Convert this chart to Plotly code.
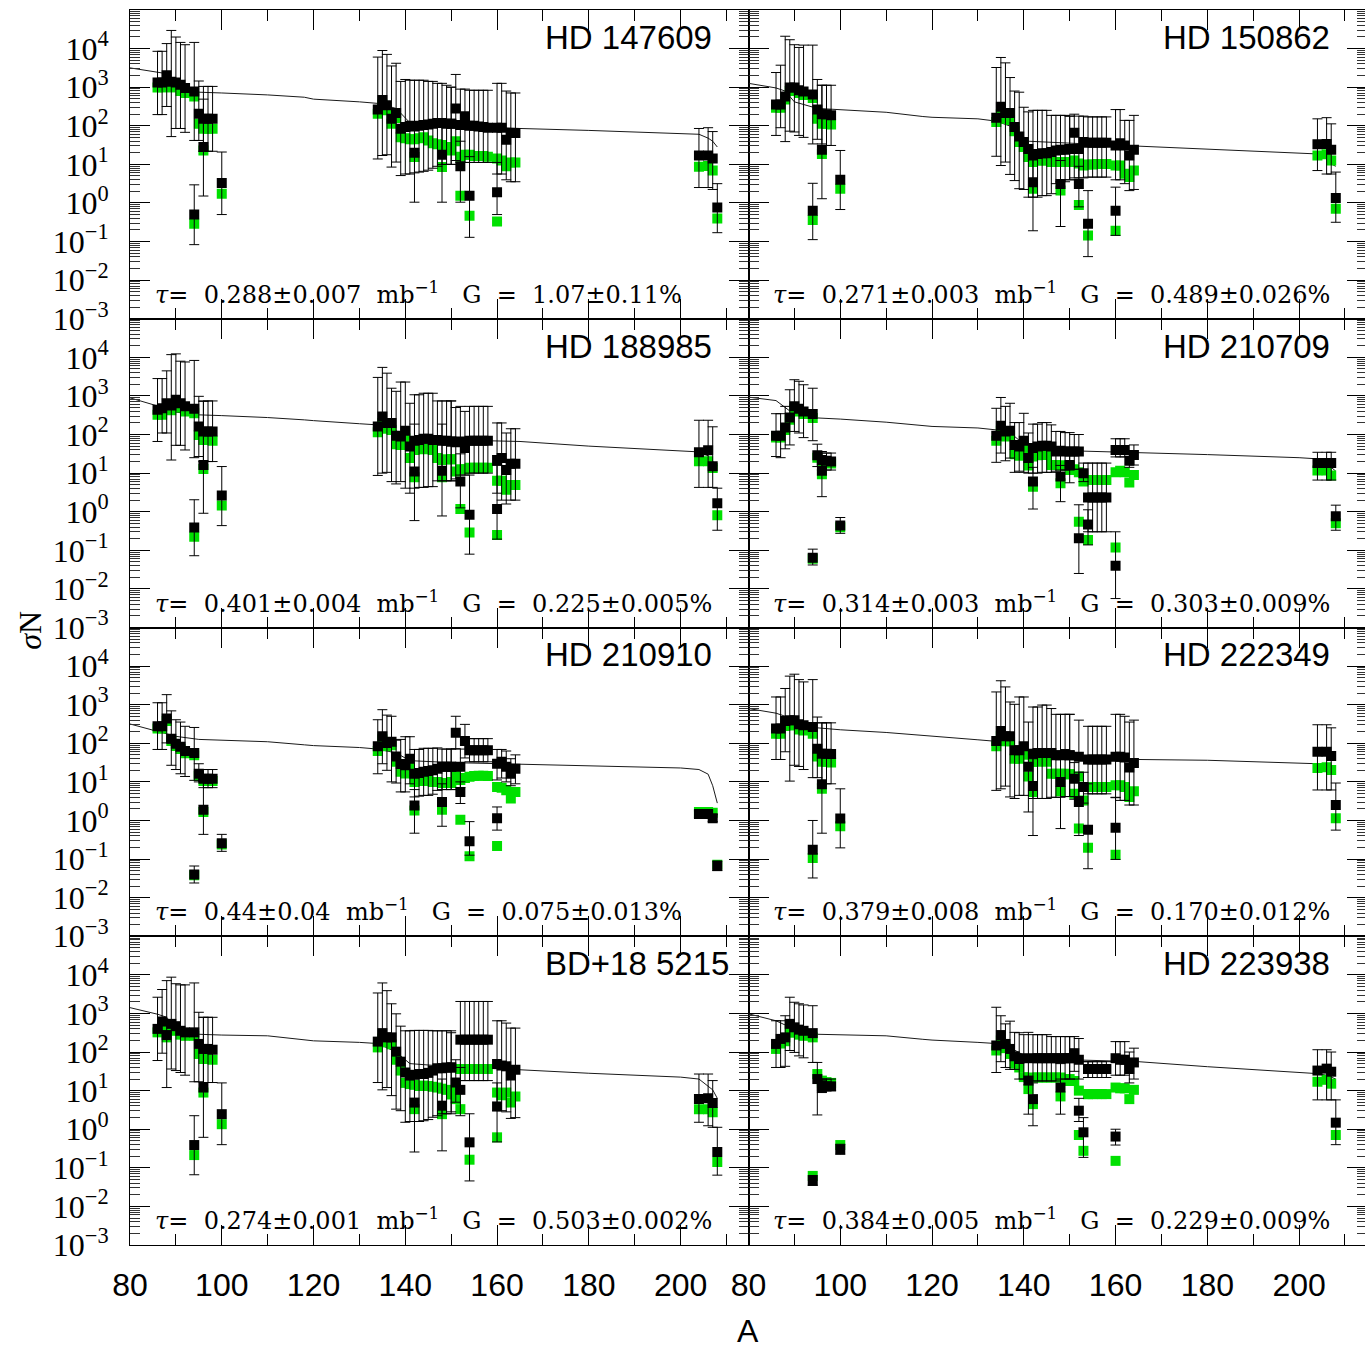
import plotly.graph_objects as go
from plotly.subplots import make_subplots

# Mass numbers of the measured isotopes (repeated A = isobars of two elements)
A_ISO = [86, 87, 88, 89, 90, 91, 92, 94, 94, 95, 96, 96, 97, 98, 100,
         134, 135, 136, 137, 138, 139, 140, 141, 142, 142, 143, 144, 145, 146, 147,
         148, 148, 149, 150, 150, 151, 152, 152, 153, 154, 154, 155, 156, 157, 158,
         160, 160, 161, 162, 163, 164,
         204, 206, 207, 208]

# Mass numbers at which the main-component sigma*N curve is tabulated
CURVE_A = [80, 86, 88, 90, 95, 100, 110, 118, 120, 130, 134, 138, 141,
           150, 160, 165, 180, 200, 204, 206, 207, 208]

STARS = ["HD 147609", "HD 150862", "HD 188985", "HD 210709",
         "HD 210910", "HD 222349", "BD+18 5215", "HD 223938"]
TAU = ["0.288±0.007", "0.271±0.003", "0.401±0.004", "0.314±0.003",
       "0.44±0.04", "0.379±0.008", "0.274±0.001", "0.384±0.005"]
G_PCT = ["1.07±0.11", "0.489±0.026", "0.225±0.005", "0.303±0.009",
         "0.075±0.013", "0.170±0.012", "0.503±0.002", "0.229±0.009"]

# ---- log10(sigma N) per star: black = total, green = s-part, HI/LO = error-bar ends
HD147609_SN = [3.12, 3.12, 3.31, 3.14, 3.12, 3.06, 2.98, 2.89, -0.30, 2.31, 1.45, 2.18, 2.18, 2.18, 0.52,
               2.42, 2.67, 2.53, 2.18, 2.33, 1.92, 1.97, 2.00, 1.30, 1.98, 2.00, 2.02, 2.03, 2.05, 2.07,
               1.25, 2.07, 2.05, 2.05, 2.05, 2.45, 0.95, 2.02, 2.25, 0.19, 2.00, 2.00, 1.98, 1.97, 1.95,
               0.28, 1.95, 1.95, 1.64, 1.81, 1.81,
               1.23, 1.23, 1.15, -0.12]
HD147609_SNS = [2.99, 3.00, 3.00, 3.00, 3.00, 2.90, 2.85, 2.76, -0.54, 2.05, 1.36, 1.92, 1.92, 1.92, 0.24,
                2.31, 2.55, 2.40, 2.05, 2.20, 1.70, 1.68, 1.65, 1.19, 1.65, 1.68, 1.70, 1.62, 1.55, 1.52,
                0.93, 1.50, 1.45, 1.40, 1.36, 1.60, 0.19, 1.20, 1.25, -0.33, 1.25, 1.22, 1.22, 1.22, 1.20,
                -0.48, 1.15, 1.10, 0.95, 1.05, 1.05,
                0.94, 0.96, 0.84, -0.40]
HD147609_HI = [3.93, 3.93, 4.13, 4.47, 4.30, 4.16, 4.10, 4.16, 0.47, 3.16, 2.69, 3.02, 3.02, 3.02, 1.32,
               3.78, 3.95, 3.85, 3.55, 3.62, 3.15, 3.20, 3.18, 2.00, 3.18, 3.18, 3.18, 3.15, 3.15, 3.10,
               2.00, 3.10, 3.05, 3.00, 3.00, 3.33, 1.60, 2.95, 2.95, 1.20, 2.92, 2.92, 2.92, 2.92, 2.92,
               1.05, 3.10, 3.10, 2.90, 2.85, 2.85,
               1.93, 1.95, 1.85, 0.50]
HD147609_LO = [2.29, 2.29, 2.50, 1.72, 1.93, 1.93, 1.83, 1.62, -1.08, 1.62, 0.18, 1.34, 1.34, 1.34, -0.30,
               1.14, 1.23, 1.25, 0.93, 1.06, 0.71, 0.75, 0.75, 0.02, 0.78, 0.80, 0.82, 0.85, 0.90, 0.95,
               0.02, 1.00, 1.00, 1.00, 1.00, 1.10, 0.02, 1.05, 1.05, -0.89, 1.05, 1.05, 1.05, 1.05, 1.05,
               -0.30, 0.75, 0.75, 0.60, 0.55, 0.55,
               0.40, 0.40, 0.35, -0.77]
HD147609_CURVE = [3.50, 3.40, 3.35, 3.00, 2.87, 2.85, 2.80, 2.74, 2.69, 2.62, 2.58, 2.45, 2.08,
                  2.01, 1.96, 1.93, 1.88, 1.81, 1.78, 1.68, 1.60, 1.45]

HD150862_SN = [2.55, 2.55, 2.76, 2.99, 2.99, 2.92, 2.89, 2.81, -0.20, 2.42, 1.38, 2.30, 2.30, 2.27, 0.60,
               2.21, 2.49, 2.33, 2.33, 1.97, 1.72, 1.58, 1.40, 0.54, 1.23, 1.27, 1.29, 1.29, 1.32, 1.36,
               0.49, 1.38, 1.38, 1.40, 1.40, 1.82, 0.49, 1.40, 1.58, -0.54, 1.56, 1.56, 1.56, 1.56, 1.56,
               -0.20, 1.49, 1.55, 1.49, 1.23, 1.38,
               1.52, 1.53, 1.38, 0.13]
HD150862_SNS = [2.47, 2.47, 2.68, 2.90, 2.90, 2.85, 2.80, 2.72, -0.44, 2.18, 1.27, 2.05, 2.05, 2.03, 0.37,
                2.10, 2.30, 2.18, 2.15, 1.86, 1.58, 1.45, 1.19, 0.37, 1.06, 1.10, 1.10, 1.10, 1.06, 1.06,
                0.32, 1.06, 1.06, 1.06, 1.06, 1.10, -0.05, 1.02, 0.97, -0.84, 1.00, 1.00, 1.01, 1.01, 1.01,
                -0.72, 0.97, 0.97, 0.76, 0.67, 0.84,
                1.23, 1.26, 1.10, -0.15]
HD150862_HI = [3.38, 3.57, 4.32, 4.23, 4.10, 4.03, 4.09, 4.09, 0.51, 3.20, 3.05, 3.05, 3.05, 3.05, 1.36,
               3.51, 3.77, 3.63, 3.25, 2.90, 2.87, 2.48, 2.36, 1.20, 2.40, 2.40, 2.40, 2.40, 2.27, 2.27,
               1.10, 2.27, 2.27, 2.25, 2.25, 2.30, 0.95, 2.25, 2.25, 0.32, 2.23, 2.23, 2.23, 2.23, 2.23,
               0.41, 2.42, 2.42, 2.14, 2.14, 2.27,
               2.18, 2.21, 2.05, 0.80]
HD150862_LO = [1.75, 1.95, 1.59, 1.86, 1.84, 1.75, 1.70, 1.53, -0.95, 1.65, 0.11, 1.53, 1.49, 1.49, -0.17,
               1.21, 0.97, 1.06, 0.74, 0.58, 0.37, 0.35, 0.15, -0.72, 0.15, 0.15, 0.19, 0.19, 0.24, 0.50,
               -0.61, 0.55, 0.55, 0.60, 0.60, 0.65, -0.10, 0.65, 0.65, -1.39, 0.67, 0.67, 0.67, 0.67, 0.67,
               -0.84, 0.60, 0.60, 0.50, 0.32, 0.35,
               0.84, 0.75, 0.75, -0.50]
HD150862_CURVE = [3.10, 2.98, 2.90, 2.62, 2.45, 2.42, 2.35, 2.24, 2.22, 2.18, 2.12, 1.95, 1.60,
                  1.55, 1.50, 1.48, 1.40, 1.30, 1.27, 1.15, 1.01, 0.95]

HD188985_SN = [2.64, 2.68, 2.81, 2.75, 2.90, 2.81, 2.73, 2.67, -0.41, 2.21, 1.21, 2.08, 2.08, 2.08, 0.42,
               2.21, 2.47, 2.30, 2.30, 1.97, 1.95, 2.10, 1.69, 1.04, 1.84, 1.86, 1.89, 1.89, 1.86, 1.86,
               1.06, 1.84, 1.84, 1.82, 1.82, 1.80, 0.78, 1.82, 1.65, -0.08, 1.84, 1.84, 1.84, 1.84, 1.84,
               0.07, 1.34, 1.39, 1.08, 1.24, 1.24,
               1.54, 1.59, 1.18, 0.22]
HD188985_SNS = [2.51, 2.51, 2.67, 2.63, 2.77, 2.70, 2.60, 2.55, -0.65, 1.99, 1.11, 1.86, 1.86, 1.84, 0.16,
                2.06, 2.30, 2.15, 2.12, 1.75, 1.73, 1.90, 1.39, 0.89, 1.60, 1.62, 1.64, 1.62, 1.60, 1.39,
                0.89, 1.34, 1.36, 1.36, 1.36, 1.04, 0.07, 1.10, 1.10, -0.54, 1.14, 1.14, 1.14, 1.14, 1.14,
                -0.60, 0.80, 0.80, 0.57, 0.69, 0.69,
                1.31, 1.31, 1.13, -0.09]
HD188985_HI = [3.45, 3.45, 3.65, 4.07, 4.09, 3.90, 3.88, 3.92, 0.31, 2.99, 2.86, 2.87, 2.87, 2.87, 1.17,
               3.48, 3.74, 3.59, 3.20, 3.12, 3.36, 3.36, 2.81, 2.27, 3.03, 3.03, 3.07, 3.07, 3.07, 2.87,
               2.27, 2.87, 2.87, 2.87, 2.87, 2.70, 1.50, 2.73, 2.60, 0.95, 2.73, 2.73, 2.73, 2.73, 2.73,
               1.20, 2.30, 2.30, 2.04, 2.15, 2.15,
               2.37, 2.37, 2.20, 0.61]
HD188985_LO = [1.82, 2.04, 2.04, 1.34, 1.72, 1.72, 1.60, 1.40, -1.14, 1.43, -0.04, 1.30, 1.30, 1.30, -0.36,
               0.94, 1.00, 1.02, 0.78, 0.72, 0.78, 0.61, 0.48, -0.23, 0.61, 0.63, 0.63, 0.65, 0.65, 0.80,
               -0.11, 0.80, 0.80, 0.80, 0.80, 0.85, 0.10, 0.95, 0.95, -1.10, 1.00, 1.00, 1.00, 1.00, 1.00,
               -0.71, 0.48, 0.30, 0.20, 0.30, 0.30,
               0.63, 0.63, 0.63, -0.48]
HD188985_CURVE = [2.95, 2.75, 2.67, 2.58, 2.51, 2.49, 2.44, 2.38, 2.36, 2.28, 2.25, 2.10, 1.90,
                  1.86, 1.84, 1.82, 1.70, 1.58, 1.55, 1.45, 1.30, 1.20]

HD210709_SN = [1.97, 1.97, 2.18, 2.44, 2.73, 2.67, 2.60, 2.53, -1.19, 1.46, 1.06, 1.34, 1.32, 1.30, -0.36,
               1.97, 2.23, 2.08, 2.10, 1.73, 1.69, 1.84, 1.39, 0.78, 1.65, 1.69, 1.71, 1.71, 1.69, 1.56,
               0.91, 1.58, 1.56, 1.56, 1.21, 1.56, -0.69, 1.56, 1.00, -0.33, 0.37, 0.37, 0.37, 0.37, 0.37,
               -1.40, 1.60, 1.60, 1.60, 1.32, 1.47,
               1.26, 1.26, 1.26, -0.12]
HD210709_SNS = [1.92, 1.92, 2.12, 2.38, 2.66, 2.60, 2.53, 2.43, -1.22, 1.40, 0.97, 1.28, 1.26, 1.25, -0.40,
                1.84, 2.10, 1.95, 1.97, 1.49, 1.45, 1.60, 1.20, 0.65, 1.43, 1.46, 1.49, 1.47, 1.21, 1.21,
                0.74, 1.20, 1.20, 1.19, 1.08, 1.10, -0.26, 1.02, 0.78, -0.73, 0.82, 0.82, 0.82, 0.82, 0.82,
                -0.93, 1.02, 1.06, 1.02, 0.76, 0.95,
                1.07, 1.07, 0.94, -0.30]
HD210709_HI = [2.54, 2.54, 2.73, 3.16, 3.42, 3.38, 3.29, 3.20, -0.97, 1.75, 1.56, 1.52, 1.52, 1.52, -0.15,
               2.68, 2.96, 2.73, 2.81, 2.31, 2.31, 2.55, 2.04, 1.15, 2.27, 2.27, 2.31, 2.31, 2.25, 2.08,
               1.20, 2.08, 2.05, 2.05, 1.65, 2.00, 0.18, 2.00, 1.26, 0.05, 1.26, 1.26, 1.26, 1.26, 1.26,
               -0.52, 1.89, 1.89, 1.89, 1.49, 1.73,
               1.54, 1.54, 1.54, 0.17]
HD210709_LO = [1.43, 1.40, 1.63, 1.73, 2.08, 2.04, 1.92, 1.84, -1.38, 1.17, 0.39, 1.08, 1.08, 1.08, -0.56,
               1.28, 1.52, 1.32, 1.39, 1.02, 1.05, 1.02, 1.00, 0.07, 1.00, 1.00, 1.02, 1.02, 1.02, 1.05,
               0.26, 1.08, 1.08, 1.08, 0.75, 1.10, -1.60, 1.10, 0.78, -0.86, -0.52, -0.52, -0.52, -0.52, -0.52,
               -2.25, 1.42, 1.42, 1.42, 1.15, 1.21,
               0.82, 0.82, 0.82, -0.48]
HD210709_CURVE = [2.97, 2.88, 2.70, 2.52, 2.43, 2.40, 2.32, 2.23, 2.21, 2.17, 2.12, 1.95, 1.65,
                  1.58, 1.55, 1.53, 1.48, 1.40, 1.37, 1.28, 1.15, 1.05]

HD210910_SN = [2.44, 2.44, 2.64, 2.12, 1.99, 1.91, 1.80, 1.75, -1.40, 1.21, 0.28, 1.08, 1.08, 1.08, -0.59,
               1.92, 2.18, 2.01, 2.04, 1.66, 1.46, 1.43, 1.60, 0.39, 1.21, 1.23, 1.26, 1.28, 1.30, 1.34,
               0.48, 1.39, 1.39, 1.39, 1.39, 2.27, 0.74, 1.39, 2.06, -0.54, 1.82, 1.82, 1.82, 1.82, 1.82,
               0.06, 1.47, 1.52, 1.39, 1.21, 1.34,
               0.17, 0.17, 0.06, -1.18]
HD210910_SNS = [2.38, 2.38, 2.58, 2.06, 1.93, 1.85, 1.74, 1.69, -1.42, 1.15, 0.22, 1.02, 1.02, 1.02, -0.62,
                1.80, 2.10, 1.92, 1.95, 1.52, 1.26, 1.22, 1.45, 0.26, 1.00, 1.02, 1.02, 1.02, 1.00, 1.00,
                0.28, 0.97, 0.97, 0.97, 1.00, 1.15, 0.02, 1.05, 1.10, -0.93, 1.13, 1.15, 1.16, 1.16, 1.15,
                -0.66, 0.87, 0.85, 0.78, 0.57, 0.74,
                0.22, 0.22, 0.20, -1.15]
HD210910_HI = [3.05, 3.05, 3.26, 2.84, 2.61, 2.55, 2.44, 2.41, -1.18, 1.47, 1.04, 1.32, 1.32, 1.32, -0.36,
               2.61, 2.87, 2.73, 2.70, 2.08, 2.10, 2.17, 2.17, 0.80, 1.84, 1.84, 1.87, 1.87, 1.87, 1.88,
               0.95, 1.85, 1.85, 1.85, 1.85, 2.70, 1.00, 1.85, 2.49, -0.03, 2.12, 2.12, 2.12, 2.12, 2.12,
               0.35, 1.84, 1.84, 1.80, 1.60, 1.70,
               0.25, 0.25, 0.15, -1.05]
HD210910_LO = [1.84, 1.84, 2.01, 1.43, 1.32, 1.21, 1.14, 1.04, -1.62, 1.00, -0.36, 0.85, 0.85, 0.85, -0.80,
               1.21, 1.47, 1.30, 1.00, 0.97, 0.74, 0.74, 0.95, -0.33, 0.61, 0.63, 0.65, 0.65, 0.68, 0.78,
               -0.15, 0.80, 0.80, 0.80, 0.80, 1.86, 0.44, 0.85, 1.62, -0.90, 1.52, 1.52, 1.52, 1.52, 1.52,
               -0.25, 1.05, 1.10, 1.00, 0.90, 0.95,
               0.08, 0.08, -0.03, -1.30]
HD210910_CURVE = [2.50, 2.30, 2.25, 2.18, 2.10, 2.08, 2.04, 1.96, 1.94, 1.89, 1.85, 1.75, 1.55,
                  1.50, 1.47, 1.46, 1.42, 1.36, 1.32, 1.20, 0.90, 0.45]

HD222349_SN = [2.38, 2.38, 2.58, 2.60, 2.60, 2.49, 2.47, 2.42, -0.76, 1.86, 0.94, 1.73, 1.73, 1.72, 0.05,
               2.06, 2.32, 2.18, 2.18, 1.82, 1.82, 1.92, 1.39, 0.89, 1.73, 1.75, 1.75, 1.75, 1.75, 1.69,
               1.00, 1.69, 1.72, 1.69, 1.69, 1.08, 0.48, 1.65, 0.87, -0.24, 1.58, 1.58, 1.58, 1.58, 1.58,
               -0.19, 1.65, 1.65, 1.63, 1.37, 1.49,
               1.78, 1.78, 1.67, 0.40]
HD222349_SNS = [2.25, 2.25, 2.45, 2.47, 2.47, 2.36, 2.33, 2.25, -0.97, 1.66, 0.82, 1.52, 1.52, 1.50, -0.15,
                1.92, 2.18, 2.05, 2.05, 1.60, 1.60, 1.70, 1.14, 0.74, 1.52, 1.52, 1.54, 1.52, 1.21, 1.21,
                0.76, 1.21, 1.21, 1.20, 1.20, 0.69, -0.21, 1.14, 0.52, -0.71, 0.87, 0.87, 0.87, 0.87, 0.87,
                -0.89, 0.91, 0.91, 0.87, 0.61, 0.76,
                1.36, 1.38, 1.31, 0.06]
HD222349_HI = [3.20, 3.20, 3.42, 3.74, 3.79, 3.65, 3.59, 3.65, 0.00, 2.68, 2.53, 2.53, 2.53, 2.53, 0.82,
               3.33, 3.62, 3.46, 3.07, 3.01, 3.20, 3.20, 2.55, 1.60, 2.94, 2.94, 2.99, 2.99, 2.90, 2.75,
               1.60, 2.75, 2.75, 2.75, 2.75, 1.50, 1.25, 2.60, 1.25, 0.95, 2.44, 2.44, 2.44, 2.44, 2.44,
               0.60, 2.75, 2.75, 2.70, 2.55, 2.60,
               2.48, 2.48, 2.40, 0.97]
HD222349_LO = [1.58, 1.58, 1.78, 1.02, 1.43, 1.40, 1.32, 1.11, -1.49, 1.11, -0.33, 0.95, 0.95, 0.95, -0.71,
               0.78, 0.82, 0.89, 0.61, 0.57, 0.65, 0.65, 0.22, -0.39, 0.57, 0.57, 0.57, 0.57, 0.60, 0.60,
               -0.21, 0.60, 0.62, 0.62, 0.62, 0.55, -0.39, 0.62, 0.45, -1.25, 0.69, 0.69, 0.69, 0.69, 0.69,
               -1.01, 0.59, 0.52, 0.52, 0.40, 0.40,
               0.79, 0.79, 0.79, -0.25]
HD222349_CURVE = [2.90, 2.78, 2.70, 2.55, 2.40, 2.35, 2.28, 2.21, 2.18, 2.09, 2.05, 1.90, 1.65,
                  1.62, 1.60, 1.58, 1.56, 1.50, 1.47, 1.42, 1.35, 1.30]

BD185215_SN = [2.60, 2.79, 2.44, 2.73, 2.67, 2.55, 2.51, 2.51, -0.41, 2.21, 1.08, 2.08, 2.08, 2.06, 0.39,
               2.27, 2.49, 2.38, 2.38, 2.01, 1.75, 1.47, 1.39, 0.69, 1.41, 1.43, 1.43, 1.46, 1.52, 1.58,
               0.61, 1.58, 1.60, 1.60, 1.60, 1.21, 1.02, 2.32, 2.32, -0.34, 2.32, 2.32, 2.32, 2.32, 2.32,
               0.59, 1.69, 1.65, 1.63, 1.39, 1.54,
               0.78, 0.80, 0.68, -0.59]
BD185215_SNS = [2.51, 2.66, 2.38, 2.60, 2.55, 2.45, 2.42, 2.42, -0.67, 1.95, 0.95, 1.82, 1.82, 1.80, 0.13,
                2.12, 2.35, 2.25, 2.20, 1.80, 1.52, 1.20, 1.17, 0.52, 1.15, 1.12, 1.13, 1.12, 1.10, 1.08,
                0.39, 1.05, 1.02, 1.00, 0.90, 0.78, 0.52, 1.56, 1.56, -0.79, 1.56, 1.56, 1.56, 1.56, 1.56,
                -0.21, 0.95, 0.88, 0.95, 0.69, 0.85,
                0.52, 0.52, 0.44, -0.85]
BD185215_HI = [3.42, 3.62, 3.85, 3.94, 3.77, 3.74, 3.74, 3.79, 0.35, 3.03, 2.90, 2.90, 2.90, 2.90, 1.20,
               3.53, 3.79, 3.59, 3.25, 2.99, 2.67, 2.55, 2.55, 1.40, 2.56, 2.56, 2.56, 2.56, 2.55, 2.55,
               1.30, 2.55, 2.55, 2.55, 2.50, 1.80, 1.60, 3.31, 3.31, 0.40, 3.31, 3.31, 3.31, 3.31, 3.31,
               1.20, 2.81, 2.81, 2.75, 2.62, 2.62,
               1.43, 1.43, 1.26, 0.05]
BD185215_LO = [1.78, 1.97, 1.08, 1.56, 1.52, 1.47, 1.40, 1.23, -1.18, 1.23, -0.21, 1.21, 1.21, 1.21, -0.40,
               1.21, 1.02, 1.08, 0.87, 0.52, 0.48, 0.18, 0.20, -0.59, 0.20, 0.20, 0.22, 0.25, 0.31, 0.35,
               -0.56, 0.40, 0.40, 0.40, 0.45, 0.70, 0.35, 1.26, 1.26, -1.34, 1.26, 1.26, 1.26, 1.26, 1.26,
               -0.33, 0.48, 0.48, 0.45, 0.28, 0.30,
               0.18, 0.09, 0.05, -1.19]
BD185215_CURVE = [3.15, 2.98, 2.90, 2.60, 2.46, 2.44, 2.42, 2.31, 2.29, 2.25, 2.22, 2.00, 1.70,
                  1.62, 1.57, 1.54, 1.45, 1.35, 1.30, 1.12, 1.02, 0.80]

HD223938_SN = [2.21, 2.34, 2.38, 2.73, 2.64, 2.58, 2.55, 2.49, -1.34, 1.30, 1.08, 1.14, 1.11, 1.11, -0.52,
               2.17, 2.44, 2.21, 2.08, 1.89, 1.82, 1.84, 1.26, 0.78, 1.84, 1.84, 1.84, 1.84, 1.84, 1.84,
               1.08, 1.84, 1.84, 1.84, 1.84, 1.97, 0.48, 1.80, -0.08, 1.56, 1.56, 1.56, 1.56, 1.56, 1.56,
               -0.19, 1.84, 1.80, 1.80, 1.56, 1.73,
               1.52, 1.57, 1.49, 0.17]
HD223938_SNS = [2.08, 2.22, 2.28, 2.55, 2.50, 2.45, 2.42, 2.38, -1.21, 1.43, 1.20, 1.26, 1.22, 1.20, -0.41,
                2.04, 2.30, 2.10, 1.95, 1.70, 1.60, 1.35, 1.04, 0.65, 1.34, 1.34, 1.34, 1.34, 1.34, 1.34,
                0.85, 1.34, 1.30, 1.30, 1.25, 1.25, -0.15, 1.00, -0.56, 0.91, 0.91, 0.91, 0.91, 0.91, 0.91,
                -0.82, 1.08, 1.06, 1.06, 0.78, 1.02,
                1.23, 1.28, 1.18, -0.15]
HD223938_HI = [2.81, 2.81, 2.94, 3.42, 3.29, 3.25, 3.22, 3.20, -1.20, 1.73, 1.30, 1.30, 1.30, 1.30, -0.39,
               3.16, 2.94, 2.73, 2.80, 2.51, 2.50, 2.45, 2.51, 1.20, 2.45, 2.45, 2.45, 2.45, 2.40, 2.40,
               1.70, 2.40, 2.40, 2.40, 2.40, 2.40, 0.80, 2.35, 0.30, 1.75, 1.75, 1.75, 1.75, 1.75, 1.75,
               0.00, 2.27, 2.27, 2.27, 2.00, 2.10,
               2.06, 2.06, 2.00, 0.76]
HD223938_LO = [1.60, 1.60, 1.63, 2.04, 1.99, 1.90, 1.85, 1.73, -1.45, 0.37, 0.95, 1.00, 1.00, 1.00, -0.65,
               1.47, 1.75, 1.60, 1.55, 1.55, 1.30, 1.30, 0.39, 0.09, 1.25, 1.25, 1.25, 1.25, 1.25, 1.25,
               0.39, 1.30, 1.30, 1.30, 1.30, 1.50, 0.20, 1.30, -0.73, 1.34, 1.34, 1.34, 1.34, 1.34, 1.34,
               -0.41, 1.40, 1.40, 1.40, 1.20, 1.30,
               0.76, 0.76, 0.76, -0.40]
HD223938_CURVE = [2.99, 2.81, 2.70, 2.50, 2.46, 2.45, 2.42, 2.33, 2.31, 2.25, 2.22, 2.05, 1.85,
                  1.80, 1.77, 1.75, 1.62, 1.47, 1.44, 1.40, 1.35, 1.30]

PANEL_DATA = [
    (HD147609_SN, HD147609_SNS, HD147609_HI, HD147609_LO, HD147609_CURVE),
    (HD150862_SN, HD150862_SNS, HD150862_HI, HD150862_LO, HD150862_CURVE),
    (HD188985_SN, HD188985_SNS, HD188985_HI, HD188985_LO, HD188985_CURVE),
    (HD210709_SN, HD210709_SNS, HD210709_HI, HD210709_LO, HD210709_CURVE),
    (HD210910_SN, HD210910_SNS, HD210910_HI, HD210910_LO, HD210910_CURVE),
    (HD222349_SN, HD222349_SNS, HD222349_HI, HD222349_LO, HD222349_CURVE),
    (BD185215_SN, BD185215_SNS, BD185215_HI, BD185215_LO, BD185215_CURVE),
    (HD223938_SN, HD223938_SNS, HD223938_HI, HD223938_LO, HD223938_CURVE),
]

Y_TICK_EXP = [-3, -2, -1, 0, 1, 2, 3, 4]
X_RANGE = [80, 214.8]

GREEN = "#00e000"
SERIF = "Liberation Serif"
SANS = "Liberation Sans"


def unlog(values):
    return [10.0 ** v for v in values]


fig = make_subplots(rows=4, cols=2, horizontal_spacing=0, vertical_spacing=0)

for k, (sn, sns, hi, lo, curve) in enumerate(PANEL_DATA):
    for arr in (sn, sns, hi, lo):
        assert len(arr) == len(A_ISO), (STARS[k], len(arr))
    assert len(curve) == len(CURVE_A)
    row, col = k // 2 + 1, k % 2 + 1

    y_tot = unlog(sn)
    up = [max(0.0, 10.0 ** h - v) for h, v in zip(hi, y_tot)]
    down = [max(0.0, v - 10.0 ** l) for l, v in zip(lo, y_tot)]

    fig.add_trace(go.Scatter(x=CURVE_A, y=unlog(curve), mode="lines",
                             line=dict(color="#1a1a1a", width=1), hoverinfo="skip"),
                  row=row, col=col)
    fig.add_trace(go.Scatter(x=A_ISO, y=unlog(sns), mode="markers",
                             marker=dict(symbol="square", size=10, color=GREEN,
                                         line=dict(width=0))),
                  row=row, col=col)
    fig.add_trace(go.Scatter(x=A_ISO, y=y_tot, mode="markers",
                             marker=dict(symbol="square", size=10, color="black",
                                         line=dict(width=0)),
                             error_y=dict(type="data", symmetric=False, array=up,
                                          arrayminus=down, color="black",
                                          thickness=1, width=5)),
                  row=row, col=col)

    fig.update_xaxes(range=X_RANGE, tick0=80, dtick=20, ticks="inside", ticklen=20,
                     tickwidth=1, tickcolor="black", mirror="allticks", showline=True,
                     linewidth=1, linecolor="black", showgrid=False, zeroline=False,
                     showticklabels=(row == 4), ticklabelstandoff=12,
                     tickfont=dict(family=SANS, size=32, color="black"),
                     minor=dict(dtick=10, tick0=80, ticks="inside", ticklen=11,
                                tickwidth=1, tickcolor="black", showgrid=False),
                     row=row, col=col)
    fig.update_yaxes(type="log", range=[-3, 5], tickmode="array",
                     tickvals=[10.0 ** e for e in Y_TICK_EXP],
                     ticktext=["10<sup>%s</sup>" % (str(e).replace("-", "−")) for e in Y_TICK_EXP],
                     ticks="inside", ticklen=20, tickwidth=1, tickcolor="black",
                     mirror="allticks", showline=True, linewidth=1, linecolor="black",
                     showgrid=False, zeroline=False, showticklabels=(col == 1),
                     ticklabelstandoff=14,
                     tickfont=dict(family=SERIF, size=32, color="black"),
                     minor=dict(dtick="D1", ticks="inside", ticklen=10, tickwidth=1,
                                tickcolor="#333333", showgrid=False),
                     row=row, col=col)

    xref = "x" if k == 0 else "x%d" % (k + 1)
    yref = "y" if k == 0 else "y%d" % (k + 1)
    fig.add_annotation(x=170, y=4.29, xref=xref, yref=yref, text=STARS[k],
                       showarrow=False, xanchor="left", yanchor="middle",
                       font=dict(family=SANS, size=33, color="black"))
    nb = "\u00a0"
    label = ("<i>τ</i>=" + nb * 2 + TAU[k] + nb * 2 + "mb<sup>−1</sup>" + nb * 3 + "G" + nb * 2
             + "=" + nb * 2 + G_PCT[k] + "%")
    fig.add_annotation(x=85, y=-2.33, xref=xref, yref=yref, text=label,
                       showarrow=False, xanchor="left", yanchor="middle",
                       font=dict(family="DejaVu Serif", size=24, color="black"))

# axis titles
fig.add_annotation(x=-0.081, y=0.498, xref="paper", yref="paper",
                   text="<i>σ</i>N", textangle=-90, showarrow=False,
                   xanchor="center", yanchor="middle",
                   font=dict(family=SERIF, size=32, color="black"))
fig.add_annotation(x=0.4996, y=-0.0696, xref="paper", yref="paper", text="A",
                   showarrow=False, xanchor="center", yanchor="middle", borderpad=0,
                   font=dict(family=SANS, size=32, color="black"))

fig.update_layout(width=1367, height=1351, showlegend=False,
                  margin=dict(l=130, r=0, t=10, b=106),
                  plot_bgcolor="white", paper_bgcolor="white")

fig.write_html("out.html", post_script="document.body.style.overflow='hidden';")
